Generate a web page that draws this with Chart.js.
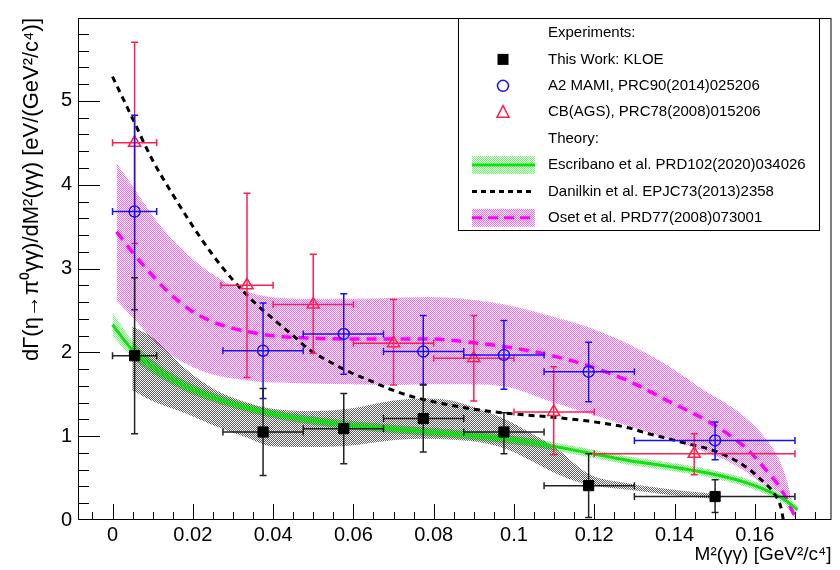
<!DOCTYPE html>
<html>
<head>
<meta charset="utf-8">
<script src="https://cdn.jsdelivr.net/npm/chart.js@4/dist/chart.umd.min.js"></script>
<style>
  html, body { margin: 0; padding: 0; background: #fff; }
  canvas { display: block; }
</style>
</head>
<body>
<canvas id="chart" width="840" height="570"></canvas>
<script>
// KLOE, this work
let kloeX   = [0.0055, 0.0375, 0.0576, 0.0774, 0.0975, 0.1186, 0.1501];
let kloeY   = [1.96, 1.05, 1.09, 1.21, 1.05, 0.41, 0.28];
let kloeXLo = [0, 0.0275, 0.0475, 0.0675, 0.0875, 0.1075, 0.13];
let kloeXHi = [0.011, 0.0475, 0.0675, 0.0875, 0.1075, 0.13, 0.17];
let kloeYLo = [1.03, 0.53, 0.67, 0.81, 0.79, 0.03, 0.09];
let kloeYHi = [2.89, 1.57, 1.51, 1.61, 1.28, 0.79, 0.48];

// A2 MAMI
let a2X   = [0.0055, 0.0375, 0.0576, 0.0774, 0.0975, 0.1186, 0.1501];
let a2Y   = [3.68, 2.02, 2.22, 2.01, 1.97, 1.77, 0.95];
let a2XLo = [0, 0.0275, 0.0475, 0.0675, 0.0875, 0.1075, 0.13];
let a2XHi = [0.011, 0.0475, 0.0675, 0.0875, 0.1075, 0.13, 0.17];
let a2YLo = [2.51, 1.45, 1.74, 1.62, 1.56, 1.41, 0.72];
let a2YHi = [4.83, 2.59, 2.70, 2.44, 2.38, 2.12, 1.17];

// Crystal Ball (AGS)
let cbX   = [0.0055, 0.0335, 0.050, 0.070, 0.090, 0.1099, 0.1449];
let cbY   = [4.50, 2.80, 2.57, 2.11, 1.93, 1.29, 0.79];
let cbXLo = [0, 0.027, 0.04, 0.06, 0.08, 0.1, 0.12];
let cbXHi = [0.011, 0.04, 0.06, 0.08, 0.1, 0.12, 0.17];
let cbYLo = [3.30, 1.70, 1.99, 1.61, 1.42, 0.78, 0.54];
let cbYHi = [5.70, 3.90, 3.17, 2.63, 2.44, 1.83, 1.03];

// KLOE uncertainty band (grey)
let kbX  = [0.0049, 0.0099, 0.0178, 0.0257, 0.0336, 0.0395, 0.0494, 0.0593, 0.0692, 0.0771, 0.084, 0.091, 0.0979, 0.1038, 0.1107, 0.1186, 0.1285, 0.1384, 0.1503];
let kbUp = [2.31, 2.18, 1.82, 1.55, 1.40, 1.33, 1.30, 1.33, 1.42, 1.45, 1.43, 1.33, 1.20, 1.05, 0.85, 0.55, 0.44, 0.37, 0.31];
let kbLo = [1.55, 1.42, 1.28, 1.12, 0.98, 0.88, 0.87, 0.89, 0.95, 0.97, 0.96, 0.93, 0.85, 0.72, 0.55, 0.42, 0.36, 0.30, 0.25];

// theory: Escribano et al.
let escX  = [0, 0.0049, 0.0099, 0.0148, 0.0198, 0.0297, 0.0395, 0.0494, 0.0593, 0.0692, 0.0791, 0.089, 0.0989, 0.1087, 0.1186, 0.1285, 0.1384, 0.1483, 0.1582, 0.1631, 0.1661, 0.1686, 0.1706];
let escY  = [2.33, 2.03, 1.83, 1.68, 1.56, 1.39, 1.27, 1.19, 1.13, 1.09, 1.05, 1.01, 0.96, 0.89, 0.80, 0.71, 0.64, 0.56, 0.44, 0.35, 0.28, 0.20, 0.12];
let escUp = [2.48, 2.14, 1.91, 1.75, 1.62, 1.44, 1.32, 1.24, 1.18, 1.14, 1.10, 1.06, 1.01, 0.94, 0.85, 0.76, 0.69, 0.61, 0.49, 0.40, 0.33, 0.25, 0.16];
let escLo = [2.20, 1.93, 1.75, 1.62, 1.50, 1.34, 1.22, 1.14, 1.08, 1.04, 1.00, 0.96, 0.91, 0.84, 0.75, 0.66, 0.59, 0.51, 0.39, 0.30, 0.23, 0.15, 0.08];

// theory: Danilkin et al.
let danX = [0, 0.0049, 0.0099, 0.0148, 0.0198, 0.0247, 0.0297, 0.0346, 0.0395, 0.0445, 0.0494, 0.0544, 0.0593, 0.0643, 0.0692, 0.0741, 0.0791, 0.089, 0.0989, 0.1087, 0.1186, 0.1285, 0.1335, 0.1384, 0.1433, 0.1483, 0.1532, 0.1582, 0.1611, 0.1649, 0.1665, 0.1671];
let danY = [5.29, 4.80, 4.30, 3.90, 3.52, 3.18, 2.88, 2.63, 2.42, 2.22, 2.02, 1.88, 1.76, 1.66, 1.56, 1.48, 1.42, 1.33, 1.27, 1.23, 1.18, 1.10, 1.03, 0.97, 0.91, 0.85, 0.76, 0.62, 0.50, 0.31, 0.15, 0];

// theory: Oset et al.
let osetX  = [0.001, 0.0049, 0.0099, 0.0148, 0.0198, 0.0247, 0.0297, 0.0346, 0.0395, 0.0494, 0.0593, 0.0692, 0.0791, 0.089, 0.0989, 0.1087, 0.1186, 0.1285, 0.1384, 0.1483, 0.1532, 0.1582, 0.1631, 0.1661, 0.1681, 0.1700];
let osetY  = [3.44, 3.20, 2.92, 2.68, 2.49, 2.37, 2.29, 2.24, 2.20, 2.17, 2.16, 2.16, 2.16, 2.12, 2.06, 1.97, 1.84, 1.66, 1.42, 1.18, 1.03, 0.84, 0.58, 0.40, 0.23, 0.04];
let osetUp = [4.26, 3.99, 3.64, 3.35, 3.12, 2.94, 2.80, 2.71, 2.66, 2.64, 2.64, 2.65, 2.66, 2.63, 2.56, 2.44, 2.30, 2.10, 1.84, 1.52, 1.38, 1.20, 0.95, 0.72, 0.45, 0.08];
let osetLo = [2.62, 2.42, 2.16, 1.96, 1.83, 1.74, 1.69, 1.66, 1.64, 1.63, 1.62, 1.61, 1.62, 1.62, 1.58, 1.42, 1.27, 1.12, 0.97, 0.80, 0.70, 0.56, 0.38, 0.26, 0.15, 0.02];

let legendLabels = [
  'Experiments:',
  'This Work: KLOE',
  'A2 MAMI, PRC90(2014)025206',
  'CB(AGS), PRC78(2008)015206',
  'Theory:',
  'Escribano et al. PRD102(2020)034026',
  'Danilkin et al. EPJC73(2013)2358',
  'Oset et al. PRD77(2008)073001',
];
let legendSymbols = [null, 'square', 'circle', 'triangle', null, 'escribano', 'danilkin', 'oset'];

let xTitle = 'M²(γγ) [GeV²/c⁴]';
let yTitle = 'dΓ(η→π⁰γγ)/dM²(γγ) [eV/(GeV²/c⁴)]';

const FONT = '"Liberation Sans", Arial, Helvetica, sans-serif';
const RED = '#ff1f4f';
const BLUE = '#1010ff';
const GREEN = '#10e010';
const MAGENTA = '#ff00ff';

// ROOT-like dotted fill: checkerboard of soft dots on white
const dots = (color, shift) => {
  let c = document.createElement('canvas');
  c.width = 2; c.height = 2;
  let g = c.getContext('2d');
  g.fillStyle = color;
  g.fillRect(shift, 0, 1, 1);
  g.fillRect(1 - shift, 1, 1, 1);
  return g.createPattern(c, 'repeat');
};
const pinkFill = dots('#ff66ff', 0);
const greyFill = dots('#5c5c5c', 1);
const greenFill = dots('#66ff66', 0);

const pts = (xs, ys) => xs.map((x, i) => ({ x: x, y: ys[i] }));

const bandPair = (label, xs, up, lo, fill, order) => [
  { label: label, data: pts(xs, up), fill: '+1', backgroundColor: fill,
    borderColor: 'rgba(0,0,0,0)', borderWidth: 0, pointRadius: 0, order: order,
    cubicInterpolationMode: 'monotone' },
  { label: label + ' (low)', data: pts(xs, lo), fill: false,
    borderColor: 'rgba(0,0,0,0)', borderWidth: 0, pointRadius: 0, order: order,
    cubicInterpolationMode: 'monotone' },
];

// error bars drawn right before each marker set
const errorBars = {
  id: 'errorBars',
  beforeDatasetDraw(chart, args) {
    let ds = chart.data.datasets[args.index];
    let e = ds.errors;
    if (!e) return;
    let { ctx, scales: { x, y } } = chart;
    ctx.save();
    ctx.strokeStyle = e.color;
    ctx.lineWidth = 1.5;
    ctx.beginPath();
    ds.data.forEach((p, i) => {
      let px = x.getPixelForValue(p.x), py = y.getPixelForValue(p.y);
      let x0 = x.getPixelForValue(e.xLo[i]), x1 = x.getPixelForValue(e.xHi[i]);
      let y0 = y.getPixelForValue(e.yLo[i]), y1 = y.getPixelForValue(e.yHi[i]);
      ctx.moveTo(x0, py); ctx.lineTo(x1, py);
      ctx.moveTo(px, y0); ctx.lineTo(px, y1);
      ctx.moveTo(x0, py - 3.5); ctx.lineTo(x0, py + 3.5);
      ctx.moveTo(x1, py - 3.5); ctx.lineTo(x1, py + 3.5);
      ctx.moveTo(px - 3.5, y0); ctx.lineTo(px + 3.5, y0);
      ctx.moveTo(px - 3.5, y1); ctx.lineTo(px + 3.5, y1);
    });
    ctx.stroke();
    ctx.restore();
  }
};

// frame and inward ticks, ROOT style
const frame = {
  id: 'frame',
  afterDatasetsDraw(chart) {
    let { ctx, chartArea: a, scales: { x, y } } = chart;
    ctx.save();
    ctx.strokeStyle = '#000';
    ctx.lineWidth = 1;
    ctx.strokeRect(a.left + 0.5, a.top + 0.5, a.right - a.left - 1, a.bottom - a.top - 1);
    ctx.beginPath();
    for (let i = -2; i <= 40; i++) {
      let v = i * 0.005;
      if (v < x.min || v > x.max) continue;
      let px = Math.round(x.getPixelForValue(v)) + 0.5;
      let len = i % 4 === 0 ? 16 : 8;
      ctx.moveTo(px, a.bottom); ctx.lineTo(px, a.bottom - len);
    }
    for (let i = 1; i < 30; i++) {
      let v = i * 0.2;
      if (v > y.max) break;
      let py = Math.round(y.getPixelForValue(v)) + 0.5;
      let len = i % 5 === 0 ? 22 : 11;
      ctx.moveTo(a.left, py); ctx.lineTo(a.left + len, py);
    }
    ctx.stroke();
    ctx.restore();
  }
};

const legendBox = {
  id: 'legendBox',
  afterDraw(chart) {
    let ctx = chart.ctx;
    let bx = 458, by = 18, bw = 361, bh = 212;
    ctx.save();
    ctx.fillStyle = '#fff';
    ctx.fillRect(bx, by, bw, bh);
    ctx.strokeStyle = '#000';
    ctx.lineWidth = 1;
    ctx.strokeRect(bx + 0.5, by + 0.5, bw, bh);
    ctx.font = '15px ' + FONT;
    ctx.textBaseline = 'middle';
    legendLabels.forEach((txt, i) => {
      let ry = by + 15 + i * 26.4;
      let sx = 503;
      ctx.fillStyle = '#000';
      ctx.fillText(txt, 548, ry);
      let s = legendSymbols[i];
      ctx.setLineDash([]);
      if (s === 'square') {
        ctx.fillRect(sx - 5.5, ry - 5.5, 11, 11);
      } else if (s === 'circle') {
        ctx.strokeStyle = BLUE; ctx.lineWidth = 1.5;
        ctx.beginPath(); ctx.arc(sx, ry, 5.5, 0, Math.PI * 2); ctx.stroke();
      } else if (s === 'triangle') {
        ctx.strokeStyle = RED; ctx.lineWidth = 1.5;
        ctx.beginPath();
        ctx.moveTo(sx, ry - 6.5); ctx.lineTo(sx + 6, ry + 5); ctx.lineTo(sx - 6, ry + 5);
        ctx.closePath(); ctx.stroke();
      } else if (s === 'escribano' || s === 'oset') {
        ctx.fillStyle = s === 'oset' ? pinkFill : greenFill;
        ctx.fillRect(472, ry - 9, 63, 18);
        ctx.strokeStyle = s === 'oset' ? MAGENTA : GREEN;
        ctx.lineWidth = 3;
        if (s === 'oset') ctx.setLineDash([10, 6]);
        ctx.beginPath(); ctx.moveTo(472, ry); ctx.lineTo(535, ry); ctx.stroke();
      } else if (s === 'danilkin') {
        ctx.strokeStyle = '#000'; ctx.lineWidth = 3;
        ctx.setLineDash([5, 4]);
        ctx.beginPath(); ctx.moveTo(472, ry); ctx.lineTo(535, ry); ctx.stroke();
      }
    });
    ctx.restore();
  }
};

Chart.defaults.font.family = FONT;
Chart.defaults.color = '#000';

let datasets = [
  { label: 'This Work: KLOE', data: pts(kloeX, kloeY), showLine: false,
    pointStyle: 'rect', pointRadius: 7.2, pointBackgroundColor: '#000', pointBorderColor: '#000',
    pointBorderWidth: 1, order: 1,
    errors: { xLo: kloeXLo, xHi: kloeXHi, yLo: kloeYLo, yHi: kloeYHi, color: '#222' } },
  { label: 'A2 MAMI, PRC90(2014)025206', data: pts(a2X, a2Y), showLine: false,
    pointStyle: 'circle', pointRadius: 5.5, pointBackgroundColor: 'rgba(0,0,0,0)', pointBorderColor: BLUE,
    pointBorderWidth: 1.5, order: 2,
    errors: { xLo: a2XLo, xHi: a2XHi, yLo: a2YLo, yHi: a2YHi, color: BLUE } },
  { label: 'CB(AGS), PRC78(2008)015206', data: pts(cbX, cbY), showLine: false,
    pointStyle: 'triangle', pointRadius: 7, pointBackgroundColor: 'rgba(0,0,0,0)', pointBorderColor: RED,
    pointBorderWidth: 1.5, order: 3,
    errors: { xLo: cbXLo, xHi: cbXHi, yLo: cbYLo, yHi: cbYHi, color: RED } },
  { label: 'Danilkin et al. EPJC73(2013)2358', data: pts(danX, danY), borderColor: '#000',
    borderWidth: 3, borderDash: [6, 5], pointRadius: 0, fill: false, order: 6,
    cubicInterpolationMode: 'monotone' },
  { label: 'Escribano et al. PRD102(2020)034026', data: pts(escX, escY), borderColor: GREEN,
    borderWidth: 3, pointRadius: 0, fill: false, order: 7, cubicInterpolationMode: 'monotone' },
  { label: 'Oset et al. PRD77(2008)073001', data: pts(osetX, osetY), borderColor: MAGENTA,
    borderWidth: 3.5, borderDash: [10, 7], pointRadius: 0, fill: false, order: 8,
    cubicInterpolationMode: 'monotone' },
  ...bandPair('Escribano band', escX, escUp, escLo, greenFill, 10),
  ...bandPair('KLOE band', kbX, kbUp, kbLo, greyFill, 11),
  ...bandPair('Oset band', osetX, osetUp, osetLo, pinkFill, 12),
];

new Chart(document.getElementById('chart'), {
  type: 'line',
  data: { datasets: datasets },
  plugins: [errorBars, frame, legendBox],
  options: {
    responsive: false,
    devicePixelRatio: 1,
    animation: false,
    events: [],
    layout: { padding: { top: 5, right: 2.5, left: 0, bottom: 0 } },
    plugins: { legend: { display: false }, tooltip: { enabled: false } },
    scales: {
      x: {
        type: 'linear', min: -0.0086, max: 0.1791,
        afterFit: (s) => { s.height = 50; },
        grid: { display: false, drawTicks: false },
        border: { display: false },
        ticks: {
          stepSize: 0.02, includeBounds: false, padding: 3, maxRotation: 0, autoSkip: false,
          font: { size: 20 },
          callback: (v) => (Math.abs(v) < 1e-9 ? '0' : String(+v.toFixed(2))),
        },
        title: { display: true, text: xTitle, align: 'end', font: { size: 19 },
          padding: { top: 0, bottom: 4 } },
      },
      y: {
        type: 'linear', min: 0, max: 5.99,
        afterFit: (s) => { s.width = 78; },
        grid: { display: false, drawTicks: false },
        border: { display: false },
        ticks: { stepSize: 1, includeBounds: false, padding: 6, font: { size: 20 } },
        title: { display: true, text: yTitle, align: 'end', font: { size: 22 },
          padding: { top: 19, bottom: 0 } },
      },
    },
  },
});
</script>
</body>
</html>
